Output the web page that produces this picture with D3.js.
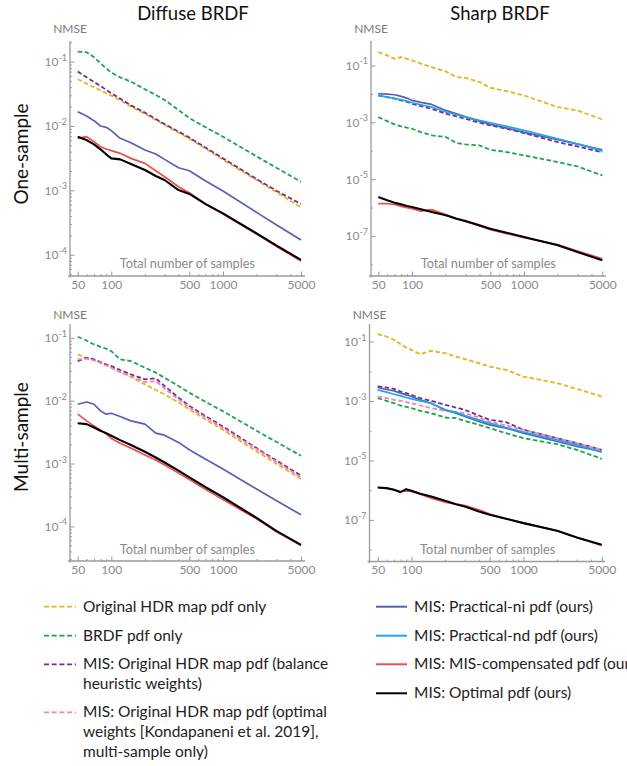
<!DOCTYPE html>
<html>
<head>
<meta charset="utf-8">
<script src="https://cdn.jsdelivr.net/npm/d3@7"></script>
<style>
  html, body { margin: 0; padding: 0; background: #fff; overflow: hidden; }
  svg { display: block; font-family: Lato, "Open Sans", sans-serif; }
</style>
</head>
<body>
<svg id="chart" width="627" height="766"></svg>
<script>
// ---------------- DATA ----------------
const sampleCounts = [50, 60, 70, 80, 90, 100, 120, 150, 200, 250, 300, 400, 500, 700, 1000, 2000, 3000, 5000];
const xMajorTicks = [50, 100, 500, 1000, 5000];
const xMinorTicks = [60, 70, 80, 90, 200, 300, 400, 600, 700, 800, 900, 2000, 3000, 4000];
const diffuseYExponents = [-1, -2, -3, -4];
const sharpYExponents = [-1, -3, -5, -7];

const columnTitles = ["Diffuse BRDF", "Sharp BRDF"];
const rowTitles = ["One-sample", "Multi-sample"];
const yAxisName = "NMSE";
const xAxisName = "Total number of samples";

// Diffuse BRDF, one-sample
const dOneHdr = [5.31e-2,4.55e-2,3.99e-2,3.58e-2,3.22e-2,2.96e-2,2.51e-2,2.0e-2,1.54e-2,1.24e-2,1.04e-2,7.88e-3,6.35e-3,4.45e-3,3.0e-3,1.45e-3,9.42e-4,5.45e-4];
const dOneBrdf = [1.43e-1,1.40e-1,1.17e-1,9.42e-2,7.87e-2,6.75e-2,5.7e-2,4.89e-2,3.72e-2,3.03e-2,2.54e-2,1.77e-2,1.33e-2,9.53e-3,6.82e-3,3.37e-3,2.25e-3,1.36e-3];
const dOneBalance = [7.0e-2,5.7e-2,4.83e-2,4.19e-2,3.63e-2,3.22e-2,2.66e-2,2.09e-2,1.61e-2,1.28e-2,1.07e-2,8.17e-3,6.59e-3,4.6e-3,3.14e-3,1.5e-3,9.89e-4,6.14e-4];
const dOneNi = [1.67e-2,1.43e-2,1.21e-2,1.0e-2,9.53e-3,8.46e-3,6.43e-3,5.5e-3,4.24e-3,3.67e-3,3.03e-3,2.25e-3,2.02e-3,1.40e-3,9.77e-4,4.55e-4,2.92e-4,1.69e-4];
const dOneComp = [6.43e-3,6.82e-3,5.70e-3,4.77e-3,4.39e-3,4.14e-3,3.76e-3,3.14e-3,2.63e-3,2.02e-3,1.63e-3,1.14e-3,9.2e-4,6.13e-4,4.28e-4,2.10e-4,1.36e-4,8.0e-5];
const dOneOpt = [6.82e-3,6.05e-3,5.19e-3,4.34e-3,3.63e-3,3.14e-3,3.03e-3,2.57e-3,2.07e-3,1.67e-3,1.45e-3,1.01e-3,8.8e-4,6.13e-4,4.39e-4,2.15e-4,1.40e-4,8.3e-5];

// Sharp BRDF, one-sample
const sOneHdr = [2.94e-1,2.25e-1,1.71e-1,1.96e-1,1.71e-1,1.50e-1,1.15e-1,8.7e-2,6.15e-2,3.89e-2,3.68e-2,2.59e-2,1.64e-2,1.25e-2,8.8e-3,3.43e-3,2.61e-3,1.26e-3];
const sOneBrdf = [1.52e-3,1.10e-3,8.41e-4,7.16e-4,6.43e-4,5.93e-4,4.52e-4,3.45e-4,3.02e-4,1.86e-4,1.67e-4,1.54e-4,1.08e-4,8.95e-5,6.84e-5,3.98e-5,2.8e-5,1.35e-5];
const sOneBalance = [8.81e-3,7.69e-3,6.73e-3,5.87e-3,5.27e-3,4.49e-3,3.71e-3,2.99e-3,2.0e-3,1.61e-3,1.33e-3,9.64e-4,7.76e-4,5.93e-4,4.17e-4,2.01e-4,1.42e-4,8.7e-5];
const sOneNi = [1.01e-2,9.82e-3,9.29e-3,8.12e-3,7.1e-3,5.87e-3,5.0e-3,4.25e-3,2.61e-3,2.0e-3,1.57e-3,1.10e-3,8.41e-4,6.25e-4,4.4e-4,2.43e-4,1.71e-4,1.08e-4];
const sOneNd = [8.81e-3,7.69e-3,6.9e-3,6.2e-3,5.57e-3,4.87e-3,4.14e-3,3.43e-3,2.29e-3,1.84e-3,1.52e-3,1.16e-3,9.64e-4,7.16e-4,5.18e-4,2.64e-4,1.76e-4,9.7e-5];
const sOneComp = [1.36e-6,1.36e-6,1.29e-6,1.10e-6,9.87e-7,9.1e-7,7.5e-7,8.4e-7,5.6e-7,4.05e-7,3.26e-7,2.23e-7,1.66e-7,1.2e-7,8.7e-8,4.93e-8,2.95e-8,1.58e-8];
const sOneOpt = [2.34e-6,1.79e-6,1.48e-6,1.29e-6,1.13e-6,1.04e-6,8.63e-7,6.95e-7,5.31e-7,4.05e-7,3.35e-7,2.36e-7,1.80e-7,1.30e-7,9.2e-8,4.67e-8,2.72e-8,1.39e-8];

// Diffuse BRDF, multi-sample
const dMultiHdr = [5.45e-2,4.82e-2,4.43e-2,4.02e-2,3.65e-2,3.35e-2,2.86e-2,2.38e-2,1.82e-2,1.48e-2,1.26e-2,9.33e-3,7.31e-3,5.01e-3,3.44e-3,1.56e-3,9.96e-4,5.69e-4];
const dMultiBrdf = [1.04e-1,9.07e-2,7.84e-2,7.2e-2,6.7e-2,6.15e-2,4.54e-2,4.27e-2,3.35e-2,2.79e-2,2.32e-2,1.71e-2,1.34e-2,9.55e-3,6.81e-3,3.32e-3,2.22e-3,1.33e-3];
const dMultiBalance = [4.27e-2,4.82e-2,4.54e-2,4.11e-2,3.78e-2,3.56e-2,3.08e-2,2.62e-2,2.19e-2,2.27e-2,1.71e-2,1.12e-2,8.26e-3,5.66e-3,3.89e-3,1.76e-3,1.12e-3,6.43e-4];
const dMultiOptW = [4.54e-2,4.65e-2,4.38e-2,4.02e-2,3.65e-2,3.35e-2,2.86e-2,2.47e-2,1.98e-2,2.06e-2,1.56e-2,1.05e-2,7.78e-3,5.39e-3,3.66e-3,1.70e-3,1.07e-3,6.04e-4];
const dMultiNi = [8.77e-3,9.55e-3,8.77e-3,6.89e-3,6.10e-3,6.32e-3,5.6e-3,4.78e-3,4.24e-3,3.05e-3,2.83e-3,2.17e-3,1.66e-3,1.17e-3,8.18e-4,3.94e-4,2.58e-4,1.53e-4];
const dMultiComp = [6.10e-3,4.78e-3,3.98e-3,3.40e-3,2.94e-3,2.51e-3,2.11e-3,1.76e-3,1.37e-3,1.14e-3,9.5e-4,7.08e-4,5.55e-4,3.85e-4,2.67e-4,1.32e-4,8.3e-5,4.99e-5];
const dMultiOpt = [4.38e-3,4.24e-3,3.75e-3,3.32e-3,3.05e-3,2.77e-3,2.36e-3,1.97e-3,1.54e-3,1.25e-3,1.04e-3,7.71e-4,6.04e-4,4.2e-4,2.91e-4,1.37e-4,8.5e-5,5.1e-5];

// Sharp BRDF, multi-sample
const sMultiHdr = [1.77e-1,1.47e-1,1.14e-1,8.13e-2,6.28e-2,5.25e-2,3.75e-2,4.85e-2,4.05e-2,3.13e-2,2.55e-2,1.87e-2,1.44e-2,1.11e-2,6.65e-3,3.97e-3,2.56e-3,1.41e-3];
const sMultiBrdf = [1.24e-3,1.01e-3,8.43e-4,7.05e-4,6.35e-4,5.73e-4,4.66e-4,3.89e-4,2.78e-4,2.64e-4,2.15e-4,1.57e-4,1.22e-4,8.26e-5,5.61e-5,3.52e-5,2.27e-5,1.13e-5];
const sMultiBalance = [3.07e-3,2.84e-3,2.56e-3,2.08e-3,1.83e-3,1.61e-3,1.24e-3,1.01e-3,7.41e-4,6.03e-4,5.03e-4,3.24e-4,2.32e-4,1.94e-4,1.07e-4,5.61e-5,3.81e-5,2.27e-5];
const sMultiOptW = [1.41e-3,1.24e-3,1.09e-3,1.01e-3,9.12e-4,8.43e-4,7.05e-4,5.73e-4,4.66e-4,4.2e-4,3.89e-4,2.78e-4,2.04e-4,1.5e-4,1.07e-4,5.61e-5,3.81e-5,2.27e-5];
const sMultiNi = [2.84e-3,2.43e-3,2.19e-3,1.83e-3,1.61e-3,1.41e-3,1.09e-3,8.43e-4,5.03e-4,3.89e-4,3.0e-4,2.04e-4,1.57e-4,1.22e-4,8.26e-5,4.33e-5,2.94e-5,2.0e-5];
const sMultiNd = [2.37e-3,1.98e-3,1.69e-3,1.49e-3,1.31e-3,1.18e-3,1.01e-3,8.43e-4,5.03e-4,4.2e-4,3.24e-4,2.32e-4,1.79e-4,1.28e-4,8.93e-5,4.93e-5,3.35e-5,1.90e-5];
const sMultiComp = [1.23e-6,1.17e-6,1.03e-6,9.0e-7,9.5e-7,9.0e-7,7.33e-7,5.38e-7,3.94e-7,3.38e-7,3.05e-7,2.18e-7,1.56e-7,1.09e-7,7.96e-8,4.29e-8,2.56e-8,1.38e-8];
const sMultiOpt = [1.23e-6,1.17e-6,1.03e-6,8.57e-7,1.08e-6,9.5e-7,7.54e-7,6.13e-7,4.38e-7,3.38e-7,2.82e-7,1.92e-7,1.48e-7,1.09e-7,7.77e-8,4.29e-8,2.56e-8,1.45e-8];

// Legend entries
const methodKeys = ["hdr", "brdf", "balance", "optw", "ni", "nd", "comp", "opt"];
const methodLabels = [
  ["Original HDR map pdf only"],
  ["BRDF pdf only"],
  ["MIS: Original HDR map pdf (balance", "heuristic weights)"],
  ["MIS: Original HDR map pdf (optimal", "weights [Kondapaneni et al. 2019],", "multi-sample only)"],
  ["MIS: Practical-ni pdf (ours)"],
  ["MIS: Practical-nd pdf (ours)"],
  ["MIS: MIS-compensated pdf (ours)"],
  ["MIS: Optimal pdf (ours)"]
];

// ---------------- STYLE / LAYOUT ----------------
const style = {
  hdr:     { color: "#e6b41e", dash: "4.5,2.5", width: 1.8 },
  brdf:    { color: "#1ca64a", dash: "4.5,2.5", width: 1.8 },
  balance: { color: "#7b2a8d", dash: "4.5,2.5", width: 1.8 },
  optw:    { color: "#f283b8", dash: "4.5,2.5", width: 1.8 },
  ni:      { color: "#5561b3", dash: null, width: 1.7 },
  nd:      { color: "#1ea8e6", dash: null, width: 1.7 },
  comp:    { color: "#f04d4d", dash: null, width: 1.7 },
  opt:     { color: "#000000", dash: null, width: 2.1 }
};

const panels = [
  { col: 0, row: 0, left: 70, x50: 77.7, x5000: 301, right: 305, top: 41, bottom: 276,
    yMinExp: -4.33, yMaxExp: -0.68, exps: diffuseYExponents, kind: "diffuse", nmseY: 33, xLabelY: 268,
    series: { hdr: dOneHdr, brdf: dOneBrdf, balance: dOneBalance, ni: dOneNi, comp: dOneComp, opt: dOneOpt } },
  { col: 1, row: 0, left: 371, x50: 378.3, x5000: 602.3, right: 606, top: 41, bottom: 276,
    yMinExp: -8.41, yMaxExp: -0.14, exps: sharpYExponents, kind: "sharp", nmseY: 33, xLabelY: 268,
    series: { hdr: sOneHdr, brdf: sOneBrdf, balance: sOneBalance, ni: sOneNi, nd: sOneNd, comp: sOneComp, opt: sOneOpt } },
  { col: 0, row: 1, left: 70, x50: 77.7, x5000: 301, right: 305, top: 324, bottom: 561,
    yMinExp: -4.55, yMaxExp: -0.78, exps: diffuseYExponents, kind: "diffuse", nmseY: 319, xLabelY: 554,
    series: { hdr: dMultiHdr, brdf: dMultiBrdf, balance: dMultiBalance, optw: dMultiOptW, ni: dMultiNi, comp: dMultiComp, opt: dMultiOpt } },
  { col: 1, row: 1, left: 369.5, x50: 377.7, x5000: 601.7, right: 605, top: 324, bottom: 561.5,
    yMinExp: -8.40, yMaxExp: -0.41, exps: sharpYExponents, kind: "sharp", nmseY: 319, xLabelY: 554,
    series: { hdr: sMultiHdr, brdf: sMultiBrdf, balance: sMultiBalance, optw: sMultiOptW, ni: sMultiNi, nd: sMultiNd, comp: sMultiComp, opt: sMultiOpt } }
];

const axisColor = "#9a9a9a";
const labelColor = "#8a8a8a";

const svg = d3.select("#chart");

// Column titles
const titleX = [193, 500];
columnTitles.forEach((t, i) => {
  svg.append("text").attr("x", titleX[i]).attr("y", 20).attr("text-anchor", "middle")
    .attr("font-size", 18.5).attr("fill", "#111").text(t);
});
// Row titles
const rowCenters = [[27.5, 154], [27.5, 437]];
rowTitles.forEach((t, i) => {
  svg.append("text").attr("transform", `translate(${rowCenters[i][0]},${rowCenters[i][1]}) rotate(-90)`)
    .attr("text-anchor", "middle").attr("font-size", 19).attr("fill", "#111").text(t);
});

panels.forEach(p => {
  const g = svg.append("g");
  const x = d3.scaleLog().domain([50, 5000]).range([p.x50, p.x5000]);
  const y = d3.scaleLog().domain([Math.pow(10, p.yMinExp), Math.pow(10, p.yMaxExp)]).range([p.bottom, p.top]);

  // x ticks (major + minor), inward
  const gxMinor = g.append("g").attr("transform", `translate(0,${p.bottom})`)
    .call(d3.axisBottom(x).tickValues(xMinorTicks).tickSize(-2).tickFormat(""));
  const gx = g.append("g").attr("transform", `translate(0,${p.bottom})`)
    .call(d3.axisBottom(x).tickValues(xMajorTicks).tickSize(-4.5).tickPadding(4).tickFormat(d3.format("d")));
  [gxMinor, gx].forEach(a => {
    a.select(".domain").remove();
    a.selectAll(".tick line").attr("stroke", axisColor).attr("stroke-width", 1);
  });
  gx.attr("font-family", null).attr("font-size", 12);
  gx.selectAll(".tick text").attr("fill", labelColor);

  // y ticks
  const majorY = p.exps.map(e => Math.pow(10, e));
  let minorY = [];
  if (p.kind === "diffuse") {
    for (let e = Math.floor(p.yMinExp); e <= Math.ceil(p.yMaxExp); e++) {
      for (let m = 2; m <= 9; m++) {
        const v = m * Math.pow(10, e);
        const lv = Math.log10(v);
        if (lv >= p.yMinExp && lv <= p.yMaxExp) minorY.push(v);
      }
    }
  } else {
    for (let e = Math.ceil(p.yMinExp); e <= Math.floor(p.yMaxExp); e++) {
      if (!p.exps.includes(e)) minorY.push(Math.pow(10, e));
    }
  }
  const gyMinor = g.append("g").attr("transform", `translate(${p.left},0)`)
    .call(d3.axisLeft(y).tickValues(minorY).tickSize(-2).tickFormat(""));
  const gy = g.append("g").attr("transform", `translate(${p.left},0)`)
    .call(d3.axisLeft(y).tickValues(majorY).tickSize(-4.5).tickFormat(""));
  [gyMinor, gy].forEach(a => {
    a.select(".domain").remove();
    a.selectAll(".tick line").attr("stroke", axisColor).attr("stroke-width", 1);
  });

  // y tick labels with superscript exponent
  p.exps.forEach(e => {
    const t = g.append("text").attr("x", p.left - 3).attr("y", y(Math.pow(10, e)) + 4.5)
      .attr("text-anchor", "end").attr("font-size", 12).attr("fill", labelColor);
    t.append("tspan").text("10");
    t.append("tspan").attr("dy", -5.5).attr("font-size", 9).text("-" + Math.abs(e));
  });

  // axis lines
  g.append("line").attr("x1", p.left - 2).attr("x2", p.right).attr("y1", p.bottom).attr("y2", p.bottom)
    .attr("stroke", axisColor).attr("stroke-width", 1.3);
  g.append("line").attr("x1", p.left).attr("x2", p.left).attr("y1", p.top).attr("y2", p.bottom + 1.5)
    .attr("stroke", axisColor).attr("stroke-width", 1.3);

  // axis names
  g.append("text").attr("x", p.left).attr("y", p.nmseY).attr("text-anchor", "middle")
    .attr("font-size", 12).attr("fill", "#7a7a7a").text(yAxisName);
  g.append("text").attr("x", (p.x50 + p.x5000) / 2 - 2).attr("y", p.xLabelY).attr("text-anchor", "middle")
    .attr("font-size", 12.7).attr("fill", labelColor).text(xAxisName);

  // series
  const line = d3.line().x(d => x(d[0])).y(d => y(d[1]));
  methodKeys.forEach(k => {
    const vals = p.series[k];
    if (!vals) return;
    const st = style[k];
    g.append("path").datum(d3.zip(sampleCounts, vals))
      .attr("d", line).attr("fill", "none")
      .attr("stroke", st.color).attr("stroke-width", st.width)
      .attr("stroke-dasharray", st.dash)
      .attr("stroke-linejoin", "round");
  });
});

// ---------------- LEGEND ----------------
const legendCols = [
  { keys: ["hdr", "brdf", "balance", "optw"], x1: 44, x2: 76, tx: 83, rows: [606.7, 635.7, 664.3, 712.3] },
  { keys: ["ni", "nd", "comp", "opt"], x1: 376, x2: 407, tx: 414, rows: [606.7, 635.7, 664.3, 693.3] }
];
legendCols.forEach(c => {
  c.keys.forEach((k, i) => {
    const st = style[k];
    const yy = c.rows[i];
    svg.append("line").attr("x1", c.x1).attr("x2", c.x2).attr("y1", yy).attr("y2", yy)
      .attr("stroke", st.color).attr("stroke-width", st.dash ? 1.8 : 2)
      .attr("stroke-dasharray", st.dash ? "5,2.7" : null);
    const lines = methodLabels[methodKeys.indexOf(k)];
    const t = svg.append("text").attr("x", c.tx).attr("y", yy + 5)
      .attr("font-size", 15.5).attr("fill", "#222");
    lines.forEach((ln, j) => {
      t.append("tspan").attr("x", c.tx).attr("dy", j === 0 ? 0 : 20).text(ln);
    });
  });
});
</script>
</body>
</html>
